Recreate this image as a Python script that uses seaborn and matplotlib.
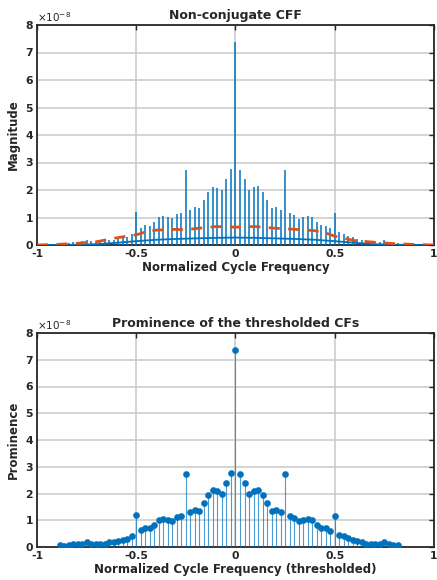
import numpy as np
import pandas as pd
import matplotlib
matplotlib.use("Agg")
import matplotlib.pyplot as plt
import seaborn as sns

# ---------------- data (values in units of 1e-8) ----------------
cf_index = list(range(-39, 37))          # cycle-frequency index, spacing 1/44
cf_step = 1.0 / 44.0
prominence = [0.06, 0.05, 0.08, 0.10, 0.11, 0.13, 0.20, 0.13, 0.11, 0.11,
              0.13, 0.17, 0.20, 0.22, 0.26, 0.30, 0.40, 1.20, 0.62, 0.71,
              0.70, 0.83, 1.01, 1.04, 1.01, 0.98, 1.11, 1.16, 2.73, 1.29,
              1.39, 1.35, 1.63, 1.93, 2.12, 2.09, 1.99, 2.41, 2.77, 7.35,
              2.72, 2.41, 1.99, 2.11, 2.13, 1.94, 1.65, 1.35, 1.39, 1.29,
              2.73, 1.15, 1.10, 0.96, 1.01, 1.04, 1.01, 0.83, 0.72, 0.70,
              0.61, 1.17, 0.46, 0.40, 0.33, 0.28, 0.23, 0.20, 0.13, 0.12,
              0.11, 0.12, 0.20, 0.12, 0.07, 0.06]
# the top-panel spikes reach about the same heights, 0 excepted slightly taller
spike_height = list(prominence)
spike_height[39] = 7.40

base_x = [-1.0, -0.9, -0.8, -0.7, -0.6, -0.5, -0.4, -0.3, -0.2, -0.1, 0.0,
          0.1, 0.2, 0.3, 0.4, 0.5, 0.6, 0.7, 0.8, 0.9, 1.0]
base_y = [0.0, 0.0, 0.01, 0.03, 0.08, 0.14, 0.19, 0.22, 0.24, 0.26, 0.27,
          0.26, 0.24, 0.22, 0.19, 0.14, 0.08, 0.03, 0.01, 0.0, 0.0]

thr_x = [-1.0, -0.9, -0.8, -0.7, -0.6, -0.5, -0.45, -0.4, -0.3, -0.25, -0.2,
         -0.1, 0.0, 0.1, 0.2, 0.3, 0.4, 0.45, 0.5, 0.6, 0.7, 0.8, 0.9, 1.0]
thr_y = [0.0, 0.02, 0.06, 0.12, 0.26, 0.37, 0.48, 0.54, 0.57, 0.55, 0.60,
         0.67, 0.65, 0.67, 0.61, 0.57, 0.52, 0.45, 0.32, 0.16, 0.10, 0.05,
         0.02, 0.0]

x_ticks = [-1, -0.5, 0, 0.5, 1]
x_ticklabels = ["-1", "-0.5", "0", "0.5", "1"]
y_ticks = [0, 1, 2, 3, 4, 5, 6, 7, 8]

BLUE = "#0072BD"
ORANGE = "#D95319"

cf = np.array(cf_index) * cf_step
df_stem = pd.DataFrame({"cf": cf, "prom": prominence})
df_base = pd.DataFrame({"x": base_x, "y": base_y})
df_thr = pd.DataFrame({"x": thr_x, "y": thr_y})

# ---------------- style ----------------
sns.set_theme(style="white")
plt.rcParams["font.family"] = ["DejaVu Sans"]

fig = plt.figure(figsize=(4.37, 5.80), dpi=100)
ax1 = fig.add_axes([37 / 437, 1 - 245 / 580, 397 / 437, 220 / 580])
ax2 = fig.add_axes([37 / 437, 1 - 547 / 580, 397 / 437, 214 / 580])


def style_axes(ax, title, xlabel, ylabel):
    ax.set_xlim(-1, 1)
    ax.set_ylim(0, 8)
    ax.set_xticks(x_ticks)
    ax.set_xticklabels(x_ticklabels)
    ax.set_yticks(y_ticks)
    ax.grid(True, color="#c9c9c9", linewidth=1.1)
    ax.set_axisbelow(True)
    for s in ax.spines.values():
        s.set_color("#262626")
        s.set_linewidth(1.3)
        s.set_visible(True)
    ax.tick_params(direction="in", length=3.5, width=1.0, colors="#262626",
                   top=True, right=True, labelsize=7.8, pad=3)
    for lab in ax.get_xticklabels() + ax.get_yticklabels():
        lab.set_fontweight("bold")
    ax.set_title(title, fontsize=9, fontweight="bold", pad=4)
    ax.set_xlabel(xlabel, fontsize=8.5, fontweight="bold", labelpad=1)
    ax.set_ylabel(ylabel, fontsize=8.5, fontweight="bold", labelpad=4)
    ax.text(0.0, 1.005, r"$\times10^{-8}$", transform=ax.transAxes,
            fontsize=7.5, color="#262626", ha="left", va="bottom")


# ---------------- top panel ----------------
ax1.vlines(cf, 0, spike_height, color=BLUE, linewidth=1.1, zorder=3)
sns.lineplot(data=df_base, x="x", y="y", ax=ax1, color=BLUE,
             linewidth=1.3, zorder=3)
sns.lineplot(data=df_thr, x="x", y="y", ax=ax1, color=ORANGE,
             linewidth=2.0, zorder=4, dashes=False, linestyle=(0, (4, 3)))
style_axes(ax1, "Non-conjugate CFF", "Normalized Cycle Frequency", "Magnitude")

# ---------------- bottom panel ----------------
ax2.vlines(df_stem["cf"], 0, df_stem["prom"], color=BLUE, linewidth=0.8,
           alpha=0.7, zorder=3)
sns.scatterplot(data=df_stem, x="cf", y="prom", ax=ax2, color=BLUE,
                s=20, edgecolor=BLUE, linewidth=0.3, zorder=4)
style_axes(ax2, "Prominence of the thresholded CFs",
           "Normalized Cycle Frequency (thresholded)", "Prominence")

fig.savefig("out.png", dpi=100)
